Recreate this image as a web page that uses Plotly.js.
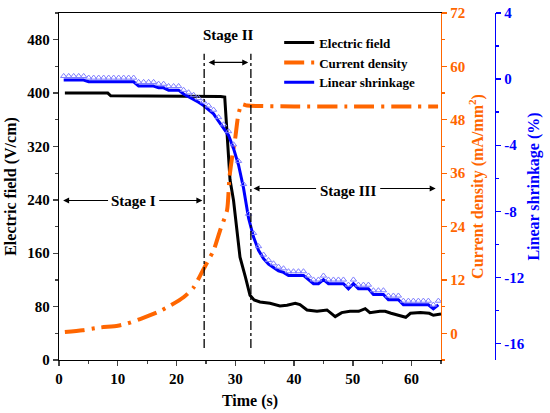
<!DOCTYPE html>
<html>
<head>
<meta charset="utf-8">
<script src="https://cdn.plot.ly/plotly-3.0.1.min.js"></script>
<style>html,body{margin:0;padding:0;background:#fff;}#chart{width:550px;height:413px;}</style>
</head>
<body>
<div id="chart"></div>
<script>
// Electric field (V/cm)
var efTime = [1, 8.3, 8.8, 25, 27.5, 28.2, 28.6, 29.1, 29.7, 30.3, 30.8, 31.7, 32.5, 33.2, 34.2, 35.9, 37.6, 38.8, 40.2, 41, 42.2, 43.9, 45.6, 47, 48.1, 49.5, 51, 52.1, 52.9, 54.6, 55.5, 56.5, 57.5, 59, 59.8, 61.5, 63, 63.7, 65];
var efValue = [400, 400, 396, 396, 395, 394, 345, 270, 239, 189, 154, 125, 97, 90, 87, 85, 81, 82, 85, 83, 75, 73, 75, 65, 71, 73, 73, 77, 71, 73, 73, 70, 68, 64, 70, 71, 70, 67, 69];

// Current density (mA/mm2)
var cdTime = [1, 4, 7, 10, 11.6, 13.8, 16.7, 18.9, 21.2, 22.9, 24.3, 25.4, 26.3, 27.4, 28.6, 29.0, 29.5, 30.0, 30.5, 31.1, 32, 40, 50, 60, 64.5];
var cdValue = [0.3, 0.7, 1.3, 1.7, 2.2, 3.2, 4.7, 6.2, 8.1, 10.3, 13.7, 16.4, 18.6, 23.1, 27.7, 35, 40, 44, 49, 51.5, 51.2, 51, 51, 51, 51];

// Linear shrinkage (%)
var lsTime = [0.80, 1.65, 2.50, 3.35, 4.20, 5.05, 5.90, 6.75, 7.60, 8.45, 9.30, 10.15, 11.00, 11.85, 12.70, 13.55, 14.40, 15.25, 16.10, 16.95, 17.80, 18.65, 19.50, 20.35, 21.20, 22.05, 22.90, 23.75, 24.60, 25.45, 26.30, 27.15, 28.00, 28.85, 29.70, 30.55, 31.40, 32.25, 33.10, 33.95, 34.80, 35.65, 36.50, 37.35, 38.20, 39.05, 39.90, 40.75, 41.60, 42.45, 43.30, 44.15, 45.00, 45.85, 46.70, 47.55, 48.40, 49.25, 50.10, 50.95, 51.80, 52.65, 53.50, 54.35, 55.20, 56.05, 56.90, 57.75, 58.60, 59.45, 60.30, 61.15, 62.00, 62.85, 63.70, 64.55];
var lsValue = [-0.06, -0.06, -0.06, -0.06, -0.06, -0.16, -0.16, -0.16, -0.16, -0.16, -0.16, -0.16, -0.16, -0.16, -0.16, -0.42, -0.42, -0.42, -0.42, -0.53, -0.53, -0.67, -0.67, -0.67, -0.9, -1.05, -1.2, -1.4, -1.6, -1.85, -2.1, -2.55, -2.99, -3.4, -4.2, -5.2, -6.6, -8.4, -9.56, -10.36, -10.87, -11.2, -11.4, -11.6, -11.7, -11.88, -11.88, -11.88, -11.88, -12.14, -12.38, -12.38, -12.14, -12.38, -12.38, -12.38, -12.38, -12.69, -12.38, -12.69, -12.69, -12.69, -13.03, -13.03, -13.03, -13.35, -13.35, -13.35, -13.66, -13.66, -13.66, -13.66, -13.66, -13.66, -13.9, -13.66];

// Tick labels of the shrinkage axis (plain hyphen as in the original)
var lsTickVals = [-16, -12, -8, -4, 0, 4];
var lsTickText = ['-16', '-12', '-8', '-4', '0', '4'];

// Stage boundaries (s) and labels
var stageBounds = [24.7, 32.65];
var stageLabels = ['Stage I', 'Stage II', 'Stage III'];

var ORANGE = '#ff6600', BLUE = '#0000ff', TRI = '#7f7fff';
var FONT = 'Liberation Serif, Times New Roman, serif';
function f(size, color) { return {family: FONT, size: size, color: color || '#000', weight: 'bold'}; }

var traces = [
  {x: efTime, y: efValue, name: 'Electric field', type: 'scatter', mode: 'lines',
   line: {color: '#000', width: 3}, yaxis: 'y'},
  {x: cdTime, y: cdValue, name: 'Current density', type: 'scatter', mode: 'lines',
   line: {color: ORANGE, width: 4, dash: '20px,7px,3px,7px', shape: 'spline', smoothing: 0.6}, yaxis: 'y2'},
  {x: lsTime, y: lsValue, name: 'Linear shrinkage', type: 'scatter', mode: 'lines',
   line: {color: BLUE, width: 3}, yaxis: 'y3'},
  {x: lsTime, y: lsValue, name: 'Linear shrinkage', type: 'scatter', mode: 'markers', showlegend: false,
   marker: {symbol: 'triangle-up-open', size: 5.5, color: TRI, line: {width: 1, color: TRI}}, yaxis: 'y4'}
];

var dom = 382 / 436;
var axisCommon = {showgrid: false, zeroline: false, showline: true, linewidth: 1.3, ticks: 'outside', ticklen: 5, tickwidth: 1.3};

var shapes = stageBounds.map(function (b) {
  return {type: 'line', xref: 'x', yref: 'y', x0: b, x1: b, y0: 18, y1: 459,
          line: {color: '#000', width: 1.3, dash: 'dashdot'}};
});

function arrow(xHead, yHead, xTail, yTail, both) {
  return {xref: 'x', yref: 'y', axref: 'x', ayref: 'y', x: xHead, y: yHead, ax: xTail, ay: yTail,
          text: '', showarrow: true, arrowhead: 2, arrowsize: 1, arrowwidth: 1.2, arrowcolor: '#000',
          arrowside: both ? 'end+start' : 'end', startarrowhead: 2, startarrowsize: 1};
}
function label(txt, x, y) {
  return {xref: 'x', yref: 'y', x: x, y: y, text: txt, showarrow: false, font: f(15)};
}

var annotations = [
  label(stageLabels[0], 12.7, 238),
  arrow(0.7, 239, 8.6, 239),
  arrow(24.4, 239, 16.8, 239),
  label(stageLabels[1], 28.8, 487),
  arrow(32.2, 446, 25.2, 446, true),
  label(stageLabels[2], 49.2, 254),
  arrow(33.1, 257, 44.0, 257),
  arrow(64.1, 257, 54.4, 257)
];

var layout = {
  width: 550, height: 413,
  margin: {l: 59, r: 55, t: 13, b: 53, pad: 0},
  paper_bgcolor: '#fff', plot_bgcolor: 'rgba(0,0,0,0)',
  font: f(15),
  showlegend: true,
  legend: {x: 0.505, y: 0.958, xanchor: 'left', yanchor: 'top', bgcolor: 'rgba(0,0,0,0)',
           font: f(13), tracegroupgap: 0, itemwidth: 30},
  xaxis: Object.assign({}, axisCommon, {
    domain: [0, dom], range: [0, 65], dtick: 10, tick0: 0, linecolor: '#000', mirror: true,
    minor: {dtick: 5, ticklen: 3, tickwidth: 1.3, ticks: 'outside'},
    tickfont: f(15), title: {text: 'Time (s)', font: f(16), standoff: 8}
  }),
  yaxis: Object.assign({}, axisCommon, {
    range: [0, 520], dtick: 80, tick0: 0, linecolor: '#000',
    minor: {dtick: 40, ticklen: 3, tickwidth: 1.3, ticks: 'outside'},
    tickfont: f(15), title: {text: 'Electric field (V/cm)', font: f(16), standoff: 6}
  }),
  yaxis2: Object.assign({}, axisCommon, {
    overlaying: 'y', side: 'right', anchor: 'x',
    range: [-6, 72], dtick: 12, tick0: 0, linecolor: ORANGE, tickcolor: ORANGE,
    minor: {dtick: 6, ticklen: 3, tickwidth: 1.3, ticks: 'outside', tickcolor: ORANGE},
    tickfont: f(15, ORANGE), title: {text: 'Current density (mA/mm<sup>2</sup>)', font: f(16, ORANGE), standoff: 4}
  }),
  yaxis3: Object.assign({}, axisCommon, {
    overlaying: 'y', side: 'right', anchor: 'free', position: 1,
    range: [-17, 4], tickmode: 'array', tickvals: lsTickVals, ticktext: lsTickText, linecolor: BLUE, tickcolor: BLUE,
    minor: {dtick: 2, tick0: 0, ticklen: 3, tickwidth: 1.3, ticks: 'outside', tickcolor: BLUE},
    tickfont: f(15, BLUE), title: {text: 'Linear shrinkage (%)', font: f(16, BLUE), standoff: 4}
  }),
  yaxis4: {overlaying: 'y', anchor: 'x', visible: false, range: [-17.24, 3.76]},
  shapes: shapes,
  annotations: annotations
};

Plotly.newPlot('chart', traces, layout, {staticPlot: true, displayModeBar: false});
</script>
</body>
</html>
